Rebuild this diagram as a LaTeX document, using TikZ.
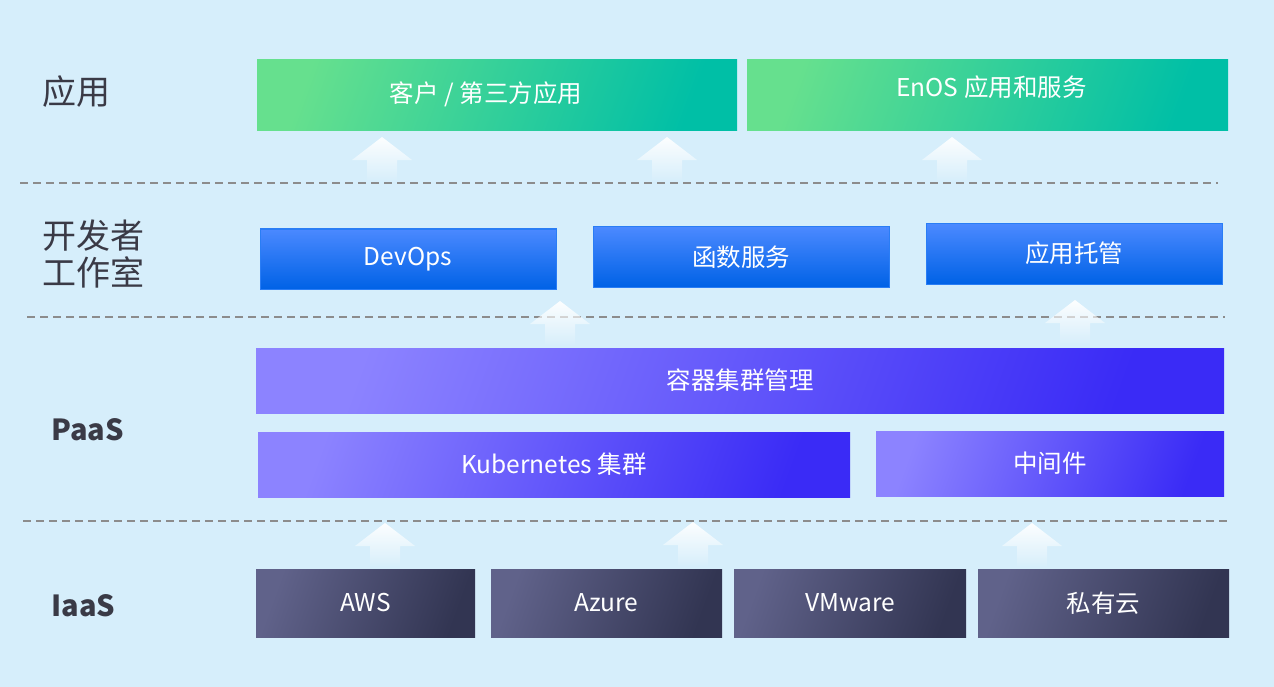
\documentclass[tikz,border=0pt]{standalone}
\usepackage{fontspec}
\setmainfont{Noto Sans CJK SC}
\usepackage{xcolor}
\usepackage{tikz}
\usetikzlibrary{fadings}

\definecolor{bgblue}{HTML}{D6EEFB}
\definecolor{grnA}{HTML}{66E08E}
\definecolor{grnB}{HTML}{00BFA6}
\definecolor{blueTop}{HTML}{4B89FF}
\definecolor{blueMid}{HTML}{0A6DFF}
\definecolor{blueBot}{HTML}{0062E6}
\definecolor{blueEdge}{HTML}{2A7DF5}
\definecolor{purA}{HTML}{8C83FF}
\definecolor{purB}{HTML}{3A2BF6}
\definecolor{darkA}{HTML}{60628A}
\definecolor{darkB}{HTML}{323552}
\definecolor{lbltext}{HTML}{3A3A46}
\definecolor{dashgray}{HTML}{8C8C8C}

\tikzset{
  box/.style={rectangle, inner sep=0pt, text=white, font=\fontsize{24.5}{28}\selectfont},
  appbox/.style={box, left color=grnA, right color=grnB, shading angle=70},
  devbox/.style={box, draw=blueEdge, line width=1pt, top color=blueTop, middle color=blueMid, bottom color=blueBot},
  paasbox/.style={box, left color=purA, right color=purB, shading angle=70},
  iaasbox/.style={box, left color=darkA, right color=darkB, shading angle=70},
  layer/.style={anchor=west, text=lbltext, align=left, font=\fontsize{34}{37}\selectfont},
  layerbold/.style={layer, font=\fontsize{29}{32}\selectfont\bfseries},
  divider/.style={dashgray, line width=2pt, dash pattern=on 8pt off 5pt},
  fadearrow/.style={fill=white, fill opacity=0.95, path fading=south}
}

\begin{document}
\begin{tikzpicture}[x=1pt, y=-1pt]
\fill[bgblue] (0,0) rectangle (1274,687);
\useasboundingbox (0,0) rectangle (1274,687);

% layer names
\node[layer] (lyingyong) at (39,92) {应用};
\node[layer] (lkaifa) at (39,254) {开发者\\工作室};
\node[layerbold] (lpaas) at (48,430) {PaaS};
\node[layerbold] (liaas) at (48,606) {IaaS};

% dividers
\draw[divider] (20,183) -- (1218,183);
\draw[divider] (27,317) -- (1225,317);
\draw[divider] (23,521) -- (1230,521);

% applications
\node[appbox, minimum width=480, minimum height=71] (kehu) at (497,95.5) {\raisebox{6pt}{客户 / 第三方应用}\hspace*{22pt}};
\node[appbox, minimum width=481, minimum height=71] (enos) at (987.5,95.5) {\raisebox{18pt}{EnOS 应用和服务}\hspace*{-8pt}};

% developer studio
\node[devbox, minimum width=296, minimum height=60] (devops) at (408,259) {DevOps};
\node[devbox, minimum width=296, minimum height=60] (hanshu) at (741,257) {函数服务};
\node[devbox, minimum width=296, minimum height=60] (tuoguan) at (1074,254) {\raisebox{4pt}{应用托管}};

% paas
\node[paasbox, minimum width=968, minimum height=65] (rongqi) at (740,380.5) {容器集群管理};
\node[paasbox, minimum width=592, minimum height=65] (k8s) at (554,464.5) {Kubernetes 集群};
\node[paasbox, minimum width=348, minimum height=65] (zhongjian) at (1050,463.5) {中间件};

% iaas
\node[iaasbox, minimum width=219, minimum height=68] (aws) at (365.5,603) {AWS};
\node[iaasbox, minimum width=231, minimum height=68] (azure) at (606.5,603) {Azure};
\node[iaasbox, minimum width=232, minimum height=68] (vmware) at (850,603) {VMware};
\node[iaasbox, minimum width=251, minimum height=68] (siyou) at (1103.5,603) {私有云};

% up arrows
\foreach \ax/\ay in {382/137, 667/137, 952/137, 560/301, 1075/300, 385/523, 693/522, 1032/523}
  \fill[fadearrow] (\ax,\ay) -- (\ax+30,\ay+23) -- (\ax+15,\ay+23) -- (\ax+15,\ay+45)
    -- (\ax-15,\ay+45) -- (\ax-15,\ay+23) -- (\ax-30,\ay+23) -- cycle;
\end{tikzpicture}
\end{document}
